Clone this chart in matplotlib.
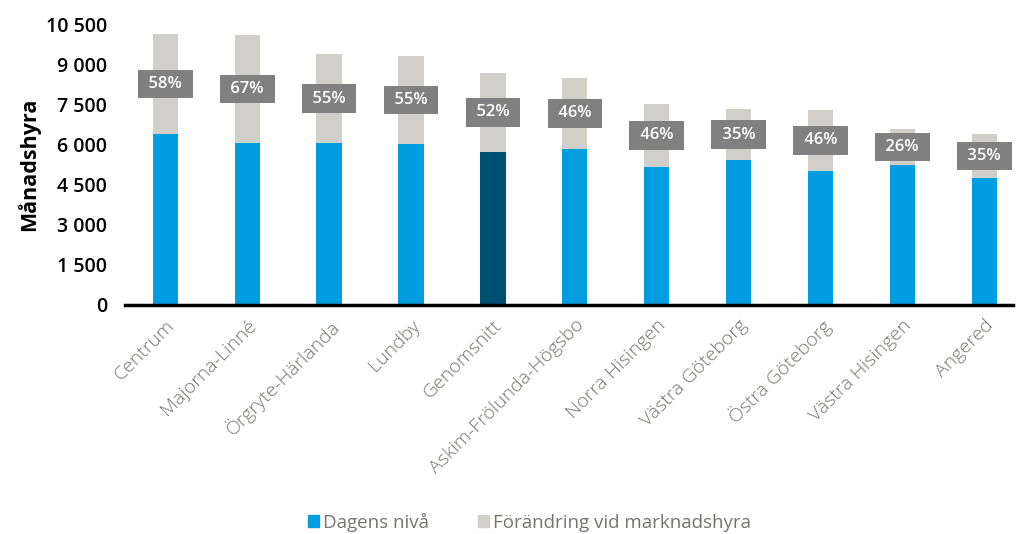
import matplotlib
matplotlib.use("Agg")
import matplotlib.pyplot as plt
from matplotlib.patches import Patch

categories = ["Centrum", "Majorna-Linné", "Örgryte-Härlanda", "Lundby", "Genomsnitt",
              "Askim-Frölunda-Högsbo", "Norra Hisingen", "Västra Göteborg",
              "Östra Göteborg", "Västra Hisingen", "Angered"]
dagens = [6400, 6050, 6050, 6010, 5710, 5820, 5150, 5410, 5000, 5220, 4740]
forandring = [3710, 4050, 3330, 3310, 2970, 2680, 2370, 1900, 2300, 1360, 1660]
pct_labels = ["58%", "67%", "55%", "55%", "52%", "46%", "46%", "35%", "46%", "26%", "35%"]
yticks = [0, 1500, 3000, 4500, 6000, 7500, 9000, 10500]
ytick_labels = ["0", "1 500", "3 000", "4 500", "6 000", "7 500", "9 000", "10 500"]

BLUE = "#009EE0"
DARK = "#005072"
GRAY = "#D0CFCA"
BOX = "#808080"
TXT = "#747470"

plt.rcParams['font.family'] = ['Open Sans', 'DejaVu Sans']

fig = plt.figure(figsize=(10.18, 5.34), dpi=100)
ax = fig.add_axes([0.123, 0.429, 0.872, 0.526])

x = list(range(len(categories)))
colors = [DARK if c == "Genomsnitt" else BLUE for c in categories]
w = 0.31
ax.bar(x, dagens, width=w, color=colors, zorder=2)
ax.bar(x, forandring, width=w, bottom=dagens, color=GRAY, zorder=2)

for i in x:
    ymid = dagens[i] + forandring[i] / 2
    ax.text(i, ymid, " " + pct_labels[i] + " ", ha="center", va="center", color="white",
            fontsize=12, fontweight="semibold", zorder=3,
            bbox=dict(boxstyle="square,pad=0.38", fc=BOX, ec="none"))

ax.set_ylim(0, 10500)
ax.set_xlim(-0.49, 10.35)
ax.set_yticks(yticks)
ax.set_yticklabels(ytick_labels, fontsize=14, fontweight="semibold", color="black")
ax.set_xticks(x)
ax.set_xticklabels(categories, rotation=45, ha="right", rotation_mode="anchor",
                   fontsize=14, color=TXT, fontweight="light")
ax.tick_params(axis="both", length=0)
ax.tick_params(axis="y", pad=13)
ax.tick_params(axis="x", pad=8)
for s in ["top", "right", "left"]:
    ax.spines[s].set_visible(False)
ax.spines["bottom"].set_linewidth(2.5)
ax.spines["bottom"].set_color("black")
ax.spines["bottom"].set_zorder(4)
ax.set_ylabel("Månadshyra", fontsize=15.5, fontweight="bold", labelpad=4)

handles = [Patch(color=BLUE, label="Dagens nivå"), Patch(color=GRAY, label="Förändring vid marknadshyra")]
leg = fig.legend(handles=handles, loc="center", bbox_to_anchor=(0.52, 0.022), ncol=2,
                 frameon=False, fontsize=13.5, handlelength=0.6, handleheight=0.6,
                 handletextpad=0.2, columnspacing=2.6)
for t in leg.get_texts():
    t.set_color(TXT)

fig.savefig("out.png", dpi=100)
